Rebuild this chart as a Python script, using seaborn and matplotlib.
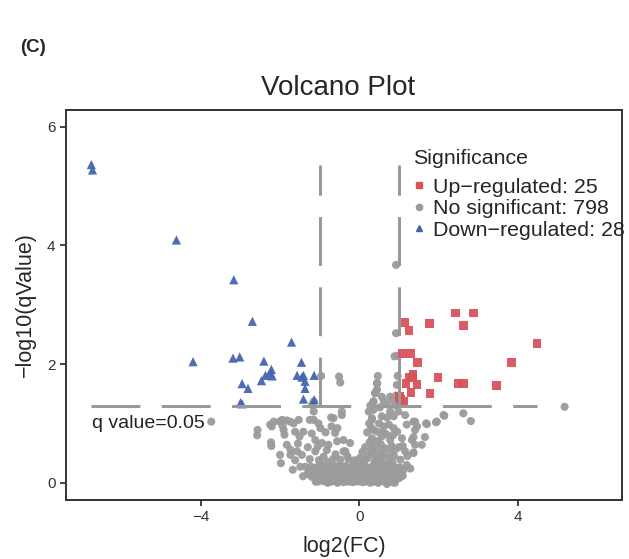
import matplotlib
matplotlib.use("Agg")
import matplotlib.pyplot as plt
from matplotlib.lines import Line2D
import numpy as np
import pandas as pd
import seaborn as sns

# ---- data (log2 fold change, -log10 q value) ----
up_pts = [
    (2.43, 2.86), (2.88, 2.86), (1.14, 2.70), (1.78, 2.68), (2.63, 2.65),
    (1.26, 2.56), (4.49, 2.35), (1.10, 2.18), (1.30, 2.18), (1.48, 2.02),
    (3.84, 2.02), (1.27, 1.78), (1.34, 1.78), (1.36, 1.82), (1.99, 1.78),
    (1.18, 1.67), (1.46, 1.66), (2.50, 1.67), (2.64, 1.67), (3.47, 1.64),
    (1.31, 1.52), (1.79, 1.50), (1.02, 1.46), (1.12, 1.37), (1.05, 1.40),
]

down_pts = [
    (-6.77, 5.36), (-6.74, 5.27), (-4.62, 4.09), (-3.17, 3.42), (-2.70, 2.72),
    (-1.71, 2.37), (-4.20, 2.04), (-3.19, 2.10), (-3.02, 2.12), (-2.41, 2.05),
    (-1.46, 2.03), (-2.22, 1.91), (-2.37, 1.81), (-2.20, 1.80), (-2.25, 1.85),
    (-2.47, 1.72), (-2.96, 1.67), (-2.81, 1.59), (-1.57, 1.81), (-1.41, 1.81),
    (-1.45, 1.78), (-1.37, 1.71), (-1.37, 1.59), (-1.41, 1.41), (-1.14, 1.81),
    (-1.14, 1.40), (-2.96, 1.33), (-3.00, 1.35),
]

nosig_pts = [
    # above the threshold, inside |log2FC| < 1
    (0.93, 3.67), (0.93, 2.52), (0.89, 2.13), (0.96, 2.14),
    (-0.96, 1.80), (-0.51, 1.79), (-0.48, 1.69), (0.47, 1.80), (0.45, 1.68),
    (0.97, 1.80), (0.95, 1.65), (0.40, 1.51), (0.57, 1.45), (0.78, 1.45),
    (0.93, 1.47), (0.45, 1.57), (0.42, 1.53),
    (-1.15, 1.37), (-1.15, 1.20), (-1.15, 1.06), (-1.19, 1.31), (-0.44, 1.20),
    (-0.65, 1.09), (-0.71, 1.10), (0.24, 1.20), (0.32, 1.09), (0.36, 1.37),
    (0.62, 1.37), (0.91, 1.31), (0.36, 1.23), (0.78, 1.20), (0.99, 1.20),
    # right side below threshold
    (2.15, 1.13), (2.63, 1.17), (2.82, 1.04), (5.19, 1.28), (1.94, 1.02),
    (1.71, 0.99), (1.37, 1.03), (1.16, 1.14), (1.41, 1.03), (1.46, 0.95),
    (1.58, 0.64), (1.37, 0.77), (1.37, 0.51), (1.66, 0.77), (1.29, 0.24),
    # left arm
    (-3.74, 1.03), (-2.57, 0.89), (-2.58, 0.80), (-2.22, 0.62), (-2.23, 0.68),
    (-2.21, 0.95), (-2.01, 1.03), (-1.83, 1.05), (-1.66, 1.00), (-1.91, 0.89),
    (-1.89, 0.81), (-1.62, 0.86), (-1.41, 0.86), (-1.51, 0.78), (-1.25, 1.06),
    (-1.03, 1.00), (-1.53, 1.06), (-1.74, 1.03), (-1.95, 1.06), (-2.16, 1.03),
    (-2.25, 0.98), (-1.94, 0.96), (-1.98, 0.33), (-1.83, 0.64), (-1.74, 0.56),
    (-1.57, 0.53), (-2.00, 0.47), (-1.74, 0.47), (-1.45, 0.47), (-1.49, 0.27),
    (-1.36, 0.27), (-1.42, 0.11), (-1.11, 0.72), (-0.94, 0.67), (-1.05, 0.61),
    (-1.11, 0.53), (-0.90, 0.44), (-0.78, 0.64), (-0.61, 0.84), (-0.56, 0.70),
    (-1.15, 0.22), (-0.90, 0.16), (-0.73, 0.27), (-0.48, 0.39), (-0.35, 0.53),
    (-0.98, 0.05), (-0.65, 0.05), (-0.48, 0.11), (-0.31, 0.22), (-1.10, 0.02),
    (-0.40, 0.72), (-0.23, 0.67), (-0.40, 0.53), (-0.27, 0.39), (-0.14, 0.30),
    (-0.44, 1.14), (-0.70, 0.95), (-0.85, 0.85), (-0.55, 0.92), (-0.80, 0.35),
    (-0.60, 0.48), (-1.25, 0.40), (-1.30, 0.60), (-0.95, 0.30), (-0.70, 0.20),
    (-0.58, 0.28), (-1.62, 0.38), (-1.55, 0.66), (-1.20, 0.83), (-0.98, 0.92),
    (-1.68, 0.22), (-1.30, 0.15), (-0.82, 0.55), (-0.66, 0.40), (-1.02, 0.38),
    # right arm
    (0.45, 1.67), (0.40, 1.51), (0.36, 1.37), (0.32, 1.06), (0.57, 1.12),
    (0.87, 1.12), (1.20, 0.98), (1.41, 0.89), (0.36, 0.89), (0.62, 0.95),
    (0.87, 0.92), (0.32, 0.75), (0.57, 0.78), (0.78, 0.72), (1.08, 0.75),
    (1.33, 0.72), (1.41, 0.64), (0.36, 0.61), (0.66, 0.58), (0.91, 0.56),
    (1.16, 0.53), (1.37, 0.50), (0.23, 0.47), (0.49, 0.44), (0.74, 0.41),
    (1.04, 0.39), (0.11, 0.33), (0.40, 0.33), (0.70, 0.30), (0.95, 0.25),
    (1.04, 0.16), (0.11, 0.36), (2.13, 1.14), (1.69, 1.00), (1.96, 1.03),
    (0.20, 0.85), (0.25, 1.00), (0.50, 1.00), (0.70, 1.10), (0.85, 0.80),
    (1.00, 0.60), (1.20, 0.30), (0.55, 0.65), (0.80, 0.50),
    (0.28, 1.30), (0.52, 1.27), (0.70, 1.32), (0.84, 1.40), (0.30, 0.93),
    (0.46, 0.86), (0.68, 0.82), (0.96, 0.86), (0.26, 0.68), (0.48, 0.55),
    (0.82, 0.62), (1.10, 0.62), (0.60, 0.48), (0.88, 0.45), (1.22, 0.45),
    (0.33, 0.50), (0.56, 0.36), (0.84, 0.34), (1.12, 0.22), (0.22, 0.22),
    # dense base of the volcano
    (-1.05, 0.02), (-0.92, 0.03), (-0.78, 0.01), (-0.66, 0.03), (-0.52, 0.02),
    (-0.40, 0.01), (-0.28, 0.03), (-0.16, 0.01), (-0.04, 0.02), (0.08, 0.01),
    (0.20, 0.03), (0.34, 0.02), (0.46, 0.01), (0.58, 0.03), (0.72, 0.02),
    (0.84, 0.01), (-1.20, 0.10), (-1.08, 0.09), (-0.96, 0.11), (-0.82, 0.10),
    (-0.70, 0.09), (-0.58, 0.11), (-0.44, 0.10), (-0.32, 0.09), (-0.22, 0.11),
    (-0.08, 0.10), (0.04, 0.09), (0.16, 0.11), (0.28, 0.10), (0.42, 0.09),
    (0.54, 0.11), (0.66, 0.10), (0.78, 0.09), (0.92, 0.11), (1.05, 0.10),
    (-1.28, 0.18), (-1.16, 0.17), (-1.02, 0.19), (-0.88, 0.18), (-0.76, 0.17),
    (-0.64, 0.19), (-0.50, 0.18), (-0.38, 0.17), (-0.26, 0.19), (-0.12, 0.18),
    (0.00, 0.17), (0.14, 0.19), (0.26, 0.18), (0.38, 0.17), (0.52, 0.19),
    (0.64, 0.18), (0.76, 0.17), (0.88, 0.19), (1.10, 0.12), (-1.22, 0.27),
    (-1.08, 0.26), (-0.96, 0.28), (-0.84, 0.26), (-0.66, 0.27), (-0.52, 0.26),
    (-0.36, 0.28), (-0.22, 0.26), (0.06, 0.27), (0.20, 0.26), (0.34, 0.28),
    (0.46, 0.26), (0.60, 0.27), (0.72, 0.26), (0.86, 0.28), (1.02, 0.26),
    (-1.00, 0.12), (-0.85, 0.08), (-0.75, 0.12), (-0.60, 0.15), (-0.50, 0.05),
    (-0.40, 0.18), (-0.35, 0.08), (-0.25, 0.12), (-0.20, 0.02), (-0.15, 0.20),
    (-0.10, 0.08), (-0.05, 0.15), (0.00, 0.03), (0.05, 0.22), (0.10, 0.10),
    (0.15, 0.02), (0.20, 0.18), (0.25, 0.06), (0.30, 0.25), (0.35, 0.12),
    (0.40, 0.03), (0.45, 0.20), (0.50, 0.10), (0.55, 0.28), (0.60, 0.05),
    (0.65, 0.16), (0.70, 0.08), (0.75, 0.22), (0.80, 0.12), (0.85, 0.04),
    (0.90, 0.15), (1.00, 0.08), (-0.90, 0.22), (-0.70, 0.02), (-0.45, 0.27),
    (-0.30, 0.02), (-0.05, 0.30), (0.12, 0.28), (0.28, 0.00), (0.48, 0.00),
    (0.62, 0.22), (0.02, 0.12), (-0.18, 0.25), (0.38, 0.38), (0.18, 0.40),
    (0.55, 0.45), (0.30, 0.55), (0.45, 0.70), (0.15, 0.60), (0.60, 0.85),
    (0.75, 0.98), (-0.55, 0.00), (-0.80, 0.00), (0.70, -0.02), (0.90, 0.00),
    (-0.12, 0.38), (0.02, 0.42), (-0.30, 0.45), (0.08, 0.52),
]

labels = ["Up-regulated: 25", "No significant: 798", "Down-regulated: 28"]
q_cut = -np.log10(0.05)
fc_cut = 1

colors = {"up": "#D8525C", "no": "#9B9B9B", "down": "#4565AE"}

frames = []
for name, pts in [("no", nosig_pts), ("up", up_pts), ("down", down_pts)]:
    d = pd.DataFrame(pts, columns=["log2FC", "logq"])
    d["group"] = name
    frames.append(d)
df = pd.concat(frames, ignore_index=True)

sns.set_style("ticks")
plt.rcParams["font.family"] = ["Liberation Sans", "DejaVu Sans"]

fig = plt.figure(figsize=(6.29, 5.59), dpi=100)
ax = fig.add_axes([66 / 629, 1 - 500 / 559, (622 - 66) / 629, 390 / 559])

sns.scatterplot(data=df, x="log2FC", y="logq", hue="group", style="group",
                hue_order=["no", "up", "down"], palette=colors,
                markers={"no": "o", "up": "s", "down": "^"},
                size="group", sizes={"no": 34, "up": 40, "down": 44},
                linewidth=0, alpha=0.95, legend=False, ax=ax, zorder=2)

# threshold lines
xmin_sig = df.loc[df.group != "no", "log2FC"].min()
xmax_sig = df.loc[df.group != "no", "log2FC"].max()
ymax_sig = df["logq"].max()
line_kw = dict(color="#999999", lw=2.2, dashes=(16, 7), zorder=3)
ax.plot([xmin_sig, xmax_sig], [q_cut, q_cut], **line_kw)
ax.plot([-fc_cut, -fc_cut], [q_cut, ymax_sig], **line_kw)
ax.plot([fc_cut, fc_cut], [q_cut, ymax_sig], **line_kw)

ax.text(-6.75, 1.0, "q value=0.05", fontsize=14, color="#222222", va="center", ha="left")

ax.set_xlim(-7.41, 6.64)
ax.set_ylim(-0.29, 6.28)
ax.set_xticks([-4, 0, 4])
ax.set_yticks([0, 2, 4, 6])
ax.tick_params(axis="both", labelsize=11, colors="#222222", length=4, width=1.2,
               labelcolor="#333333")
for s in ax.spines.values():
    s.set_color("#333333")
    s.set_linewidth(1.4)

ax.set_xlabel("log2(FC)", fontsize=15.5, labelpad=8)
ax.set_ylabel("\u2212log10(qValue)", fontsize=15.5, labelpad=8)
fig.text(338 / 629, 1 - 88 / 559, "Volcano Plot", fontsize=20, ha="center", va="center")

handles = [
    Line2D([], [], ls="", marker="s", color=colors["up"], markersize=4.5),
    Line2D([], [], ls="", marker="o", color=colors["no"], markersize=4.5),
    Line2D([], [], ls="", marker="^", color=colors["down"], markersize=5),
]
leg = ax.legend(handles, [l.replace("-", "\u2212") for l in labels], title="Significance",
                loc="upper left", bbox_to_anchor=(413 / 629, 1 - 149 / 559),
                bbox_transform=fig.transFigure, frameon=False, fontsize=15.4,
                title_fontsize=15.4, handlelength=0.6, handletextpad=0.35,
                labelspacing=0.12, borderpad=0, borderaxespad=0, alignment="left")
leg._legend_box.sep = 7

fig.text(20 / 629, 1 - 48 / 559, "(C)", fontsize=13.5, fontweight="bold", va="center")

fig.savefig("out.png", dpi=100)
